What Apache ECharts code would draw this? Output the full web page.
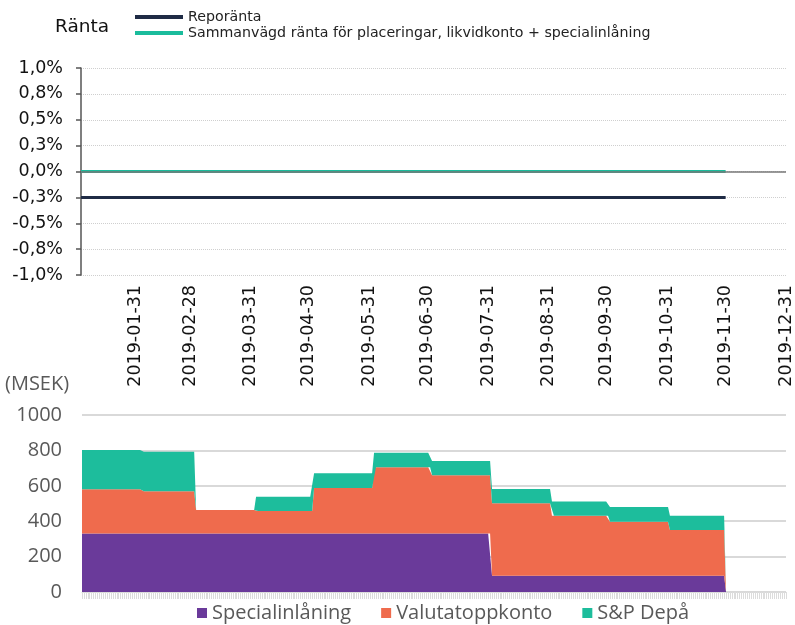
<!DOCTYPE html>
<html>
<head>
<meta charset="utf-8">
<title>Ränta och placeringar</title>
<script src="https://cdn.jsdelivr.net/npm/echarts@6/dist/echarts.min.js"></script>
<style>
  html, body { margin: 0; padding: 0; background: #fff; }
  #chart { width: 795px; height: 625px; }
</style>
</head>
<body>
<div id="chart"></div>
<script>
// räntor (%), konstanta från rateStart till rateEnd
var rateStart = '2019-01-03'
var rateEnd = '2019-11-30'
var axisEnd = '2019-12-31'
var rateNames = ['Reporänta', 'Sammanvägd ränta för placeringar, likvidkonto + specialinlåning']
var rateValues = [-0.25, 0]

// volymer (MSEK) per månad
var volumeStart = '2019-01-01'
var volumeLast = '2019-11-29'
var months = ['2019-01', '2019-02', '2019-03', '2019-04', '2019-05', '2019-06',
  '2019-07', '2019-08', '2019-09', '2019-10', '2019-11']
var specialinlaning = [330, 330, 330, 330, 330, 330, 330, 92, 92, 92, 92]
var valutatoppkonto = [250, 239, 133, 128, 258, 375, 329, 409, 339, 305, 258]
var spDepa = [222, 224, 0, 80, 83, 82, 81, 81, 81, 83, 81]
var volumeNames = ['Specialinlåning', 'Valutatoppkonto', 'S&P Depå']

function dayList(from, to) {
  var out = []
  var d = new Date(from + 'T00:00:00Z')
  var end = new Date(to + 'T00:00:00Z')
  while (d <= end) {
    out.push(d.toISOString().slice(0, 10))
    d.setUTCDate(d.getUTCDate() + 1)
  }
  return out
}

function isMonthEnd(s) {
  var d = new Date(s + 'T00:00:00Z')
  d.setUTCDate(d.getUTCDate() + 1)
  return d.getUTCDate() === 1
}

var rateDays = dayList(rateStart, axisEnd)
var volumeDays = dayList(volumeStart, axisEnd)

function rateSeries(v) {
  return rateDays.map(function (d) { return d <= rateEnd ? v : null })
}

function dailyVolume(arr) {
  return volumeDays.map(function (d) {
    var i = months.indexOf(d.slice(0, 7))
    return (i >= 0 && d <= volumeLast) ? arr[i] : 0
  })
}

var topFont = 'DejaVu Sans'
var bottomFont = 'Open Sans'

var chart = echarts.init(document.getElementById('chart'))
var option = {
  animation: false,
  title: [
    { text: 'Ränta', left: 55, top: 18, padding: 0,
      textStyle: { fontFamily: topFont, fontSize: 18.5, fontWeight: 'normal', color: '#111' } },
    { text: '(MSEK)', left: 5, top: 374, padding: 0,
      textStyle: { fontFamily: bottomFont, fontSize: 20, fontWeight: 'normal', color: '#595959' } }
  ],
  legend: [
    {
      data: rateNames,
      left: 135, top: 10, padding: 0,
      orient: 'vertical',
      itemWidth: 48, itemHeight: 4, itemGap: 2,
      icon: 'rect',
      textStyle: { fontFamily: topFont, fontSize: 14.2, color: '#222' }
    },
    {
      data: volumeNames,
      left: 197, top: 603, padding: 0,
      itemWidth: 10, itemHeight: 10, itemGap: 30,
      icon: 'rect',
      textStyle: { fontFamily: bottomFont, fontSize: 20, color: '#595959' }
    }
  ],
  grid: [
    { left: 81, right: 8, top: 68, height: 207 },
    { left: 82, right: 9, top: 415, height: 177 }
  ],
  xAxis: [
    {
      gridIndex: 0,
      type: 'category',
      data: rateDays,
      boundaryGap: false,
      axisLine: { show: false },
      axisTick: { show: false },
      axisLabel: {
        rotate: 90,
        margin: 10,
        interval: function (i, v) { return isMonthEnd(v) },
        fontFamily: topFont, fontSize: 17.5, color: '#111'
      },
      splitLine: { show: false }
    },
    {
      gridIndex: 1,
      type: 'category',
      data: volumeDays,
      boundaryGap: false,
      axisLine: { lineStyle: { color: '#d9d9d9', width: 1 } },
      axisTick: { interval: 0, length: 7, lineStyle: { color: '#dcdcdc' } },
      axisLabel: { show: false },
      splitLine: { show: false }
    }
  ],
  yAxis: [
    {
      gridIndex: 0,
      type: 'value',
      min: -1, max: 1, interval: 0.25,
      axisLine: { show: true, lineStyle: { color: '#555', width: 1.5 } },
      axisTick: { show: true, length: 5, lineStyle: { color: '#555', width: 1.5 } },
      axisLabel: {
        margin: 18,
        fontFamily: topFont, fontSize: 17.5, color: '#111',
        formatter: function (v) { return v.toFixed(1).replace('.', ',') + '%' }
      },
      splitLine: { lineStyle: { color: '#cfcfcf', type: 'dotted', width: 1 } }
    },
    {
      gridIndex: 1,
      type: 'value',
      min: 0, max: 1000, interval: 200,
      axisLine: { show: false },
      axisTick: { show: false },
      axisLabel: {
        margin: 20, fontFamily: bottomFont, fontSize: 20, color: '#595959',
        formatter: function (v) { return String(v) }
      },
      splitLine: { lineStyle: { color: '#d9d9d9', width: 2 } }
    }
  ],
  series: [
    {
      name: rateNames[0],
      type: 'line',
      xAxisIndex: 0, yAxisIndex: 0,
      data: rateSeries(rateValues[0]),
      showSymbol: false,
      z: 2,
      itemStyle: { color: '#1f2b45' },
      lineStyle: { color: '#1f2b45', width: 3 },
      markLine: {
        silent: true,
        symbol: ['none', 'none'],
        label: { show: false },
        lineStyle: { color: '#777', width: 1.5, type: 'solid' },
        data: [{ yAxis: 0 }]
      }
    },
    {
      name: rateNames[1],
      type: 'line',
      xAxisIndex: 0, yAxisIndex: 0,
      data: rateSeries(rateValues[1]),
      showSymbol: false,
      z: 3,
      itemStyle: { color: '#1abc9c' },
      lineStyle: { color: '#1abc9c', width: 3 }
    },
    {
      name: volumeNames[0],
      type: 'line',
      xAxisIndex: 1, yAxisIndex: 1,
      stack: 'vol',
      data: dailyVolume(specialinlaning),
      showSymbol: false,
      itemStyle: { color: '#6a3a9a' },
      lineStyle: { width: 0 },
      areaStyle: { color: '#6a3a9a', opacity: 1 }
    },
    {
      name: volumeNames[1],
      type: 'line',
      xAxisIndex: 1, yAxisIndex: 1,
      stack: 'vol',
      data: dailyVolume(valutatoppkonto),
      showSymbol: false,
      itemStyle: { color: '#ef6b4d' },
      lineStyle: { width: 0 },
      areaStyle: { color: '#ef6b4d', opacity: 1 }
    },
    {
      name: volumeNames[2],
      type: 'line',
      xAxisIndex: 1, yAxisIndex: 1,
      stack: 'vol',
      data: dailyVolume(spDepa),
      showSymbol: false,
      itemStyle: { color: '#1dbd9c' },
      lineStyle: { width: 0 },
      areaStyle: { color: '#1dbd9c', opacity: 1 }
    }
  ]
}
chart.setOption(option)
</script>
</body>
</html>
